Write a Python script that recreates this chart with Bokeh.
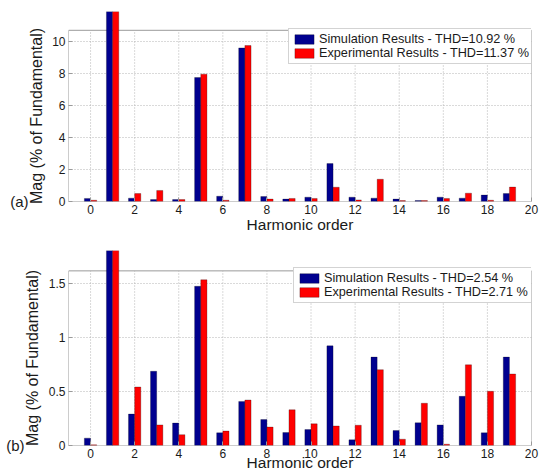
from bokeh.plotting import figure
from bokeh.layouts import column
from bokeh.models import (ColumnDataSource, FixedTicker, BoxAnnotation, Title,
                          LinearAxis, Legend, LegendItem)
from bokeh.transform import dodge
from bokeh.embed import file_html
from bokeh.resources import INLINE

# Harmonic spectra, magnitude in % of the fundamental
harmonics = list(range(20))
sim_a = [0.19, 100, 0.21, 0.12, 0.12, 7.75, 0.33, 9.60, 0.31, 0.15,
         0.27, 2.37, 0.27, 0.21, 0.15, 0.06, 0.27, 0.21, 0.40, 0.50]
exp_a = [0.08, 100, 0.50, 0.69, 0.12, 7.96, 0.08, 9.75, 0.15, 0.19,
         0.19, 0.89, 0.10, 1.39, 0.06, 0.06, 0.19, 0.52, 0.08, 0.90]
sim_b = [0.068, 100, 0.29, 0.685, 0.207, 1.47, 0.117, 0.407, 0.24, 0.12,
         0.147, 0.92, 0.052, 0.816, 0.138, 0.21, 0.19, 0.454, 0.117, 0.816]
exp_b = [0.006, 100, 0.54, 0.19, 0.10, 1.53, 0.133, 0.42, 0.17, 0.33,
         0.20, 0.18, 0.187, 0.70, 0.058, 0.39, 0.012, 0.745, 0.50, 0.66]

x_ticks = list(range(0, 21, 2))
yticks_a = [0, 2, 4, 6, 8, 10]
yticks_b = [0, 0.5, 1, 1.5]
ytick_labels_b = {0: "0", 0.5: "0.5", 1: "1", 1.5: "1.5"}

legend_a = ["Simulation Results - THD=10.92 %", "Experimental Results - THD=11.37 %"]
legend_b = ["Simulation Results - THD=2.54 %", "Experimental Results - THD=2.71 %"]

FONT = "Liberation Sans"
BLUE = "#00008F"
RED = "#FF0000"
BOX = "#9a9a9a"
TEXT = "#1a1a1a"


def panel(sim, exp, yticks, ylim, yview, tag, legend_labels, legend_loc,
          height, border_top, border_bottom, border_left,
          xlabel_standoff, ylabel_offset, label_overrides=None):
    p = figure(width=539, height=height, output_backend="svg", toolbar_location=None,
               x_range=(-1, 20), y_range=(0, yview),
               min_border_left=border_left, min_border_right=8,
               min_border_top=border_top, min_border_bottom=border_bottom)
    p.outline_line_color = None
    p.background_fill_color = "white"
    p.border_fill_color = "white"

    # axes: ticks pointing inward, lines supplied by the box below
    for ax in (p.xaxis, p.yaxis):
        ax.axis_line_color = None
        ax.major_tick_in = 4
        ax.major_tick_out = 0
        ax.major_tick_line_color = BOX
        ax.minor_tick_line_color = None
        ax.major_label_text_font = FONT
        ax.major_label_text_font_size = "12px"
        ax.major_label_text_color = TEXT
    p.xaxis.ticker = FixedTicker(ticks=x_ticks)
    p.yaxis.ticker = FixedTicker(ticks=yticks)
    p.xaxis.major_label_standoff = 3
    p.yaxis.major_label_standoff = 3
    if label_overrides:
        p.yaxis.major_label_overrides = label_overrides

    p.xaxis.axis_label = "Harmonic order"
    p.xaxis.axis_label_text_font = FONT
    p.xaxis.axis_label_text_font_size = "15.5px"
    p.xaxis.axis_label_text_font_style = "normal"
    p.xaxis.axis_label_text_color = TEXT
    p.xaxis.axis_label_standoff = xlabel_standoff

    # y label centred on the axes box rather than on the taller frame
    p.add_layout(Title(text="Mag (% of Fundamental)", align="left",
                       offset=ylabel_offset, vertical_align="bottom",
                       standoff=10, text_font=FONT, text_font_size="16px",
                       text_font_style="normal", text_color=TEXT), "left")

    # panel tag, written level with the zero tick
    tag_axis = LinearAxis(ticker=FixedTicker(ticks=[0]),
                          major_label_overrides={0: tag},
                          axis_line_color=None, major_tick_line_color=None,
                          major_tick_in=0, major_tick_out=0,
                          minor_tick_line_color=None, minor_tick_out=0,
                          major_label_standoff=-8,
                          major_label_text_font=FONT,
                          major_label_text_font_size="15px",
                          major_label_text_color=TEXT)
    p.add_layout(tag_axis, "left")

    p.xgrid.visible = False
    p.ygrid.ticker = FixedTicker(ticks=yticks[1:])
    p.ygrid.grid_line_color = "#b4b4b4"
    p.ygrid.grid_line_dash = "1 2"

    # vertical dotted grid, limited to the axes box
    gx = x_ticks[:-1]
    p.segment(x0=gx, y0=[0] * len(gx), x1=gx, y1=[ylim] * len(gx),
              line_color="#b4b4b4", line_dash="1 2", line_width=1)

    p.add_layout(BoxAnnotation(left=-1, right=20, bottom=0, top=ylim,
                               fill_alpha=0, line_color=BOX, line_alpha=1,
                               line_width=1, level="underlay"))

    src = ColumnDataSource(dict(h=harmonics, sim=sim, exp=exp))
    r1 = p.vbar(x=dodge("h", -0.14, range=p.x_range), top="sim", width=0.28,
                source=src, fill_color=BLUE, line_color="black",
                line_width=0.5, line_alpha=0.5)
    r2 = p.vbar(x=dodge("h", 0.14, range=p.x_range), top="exp", width=0.28,
                source=src, fill_color=RED, line_color="black",
                line_width=0.5, line_alpha=0.5)

    leg = Legend(items=[LegendItem(label=legend_labels[0], renderers=[r1]),
                        LegendItem(label=legend_labels[1], renderers=[r2])],
                 location=legend_loc, margin=0, padding=3, spacing=0,
                 glyph_width=24, glyph_height=12, label_standoff=3,
                 label_height=13, label_text_font=FONT,
                 label_text_font_size="12.7px", label_text_color=TEXT,
                 border_line_color="#a8a8a8", background_fill_color="white",
                 background_fill_alpha=1)
    p.add_layout(leg)
    return p


pa = panel(sim_a, exp_a, yticks_a, 10.7, 11.875, "(a)", legend_a, (220, 137),
           height=240, border_top=11, border_bottom=39, border_left=65,
           xlabel_standoff=-1, ylabel_offset=-2.5)
pb = panel(sim_b, exp_b, yticks_b, 1.612, 1.80, "(b)", legend_b, (225, 142),
           height=233, border_top=10, border_bottom=28, border_left=68,
           xlabel_standoff=-7, ylabel_offset=-0.5, label_overrides=ytick_labels_b)

layout = column(pa, pb, spacing=0)
open("out.html", "w").write(file_html(layout, INLINE))
